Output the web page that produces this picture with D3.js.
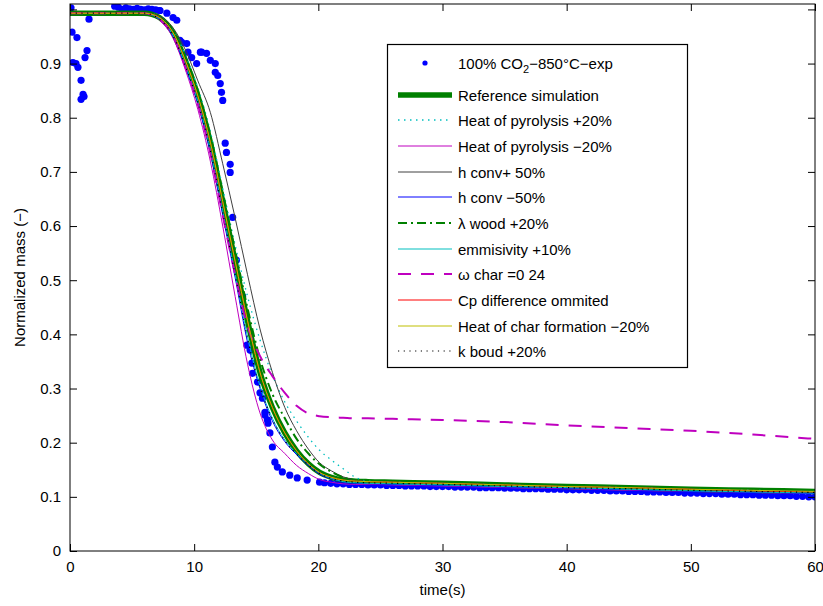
<!DOCTYPE html>
<html><head><meta charset="utf-8">
<script src="https://cdn.jsdelivr.net/npm/d3@7"></script>
<style>body{margin:0;background:#fff}text{font-family:"Liberation Sans",Arial,sans-serif}</style>
</head><body><svg id="c" width="823" height="606"></svg>
<script>
const simTime = [0, 6, 6.6, 7.2, 8.3, 9.3, 10.3, 11.3, 12.3, 13.3, 14.3, 15.3, 16.3, 17.3, 18.25, 19.2, 20.1, 21.05, 22, 23, 24, 26, 30, 35, 40, 45, 50, 55, 60];
const refSim   = [0.993,0.993,0.991,0.985,0.957,0.905,0.84,0.755,0.645,0.535,0.425,0.33,0.265,0.218,0.185,0.161,0.145,0.136,0.131,0.129,0.128,0.127,0.125,0.122,0.119,0.117,0.114,0.112,0.110];
const hopPlus  = [0.993,0.993,0.992,0.987,0.962,0.915,0.855,0.775,0.67,0.565,0.47,0.39,0.325,0.275,0.24,0.21,0.186,0.168,0.152,0.136,0.129,0.127,0.125,0.122,0.119,0.117,0.114,0.112,0.110];
const hopMinus = [0.993,0.993,0.99,0.981,0.947,0.888,0.815,0.72,0.60,0.47,0.345,0.255,0.205,0.18,0.158,0.143,0.132,0.127,0.124,0.123,0.123,0.122,0.120,0.117,0.115,0.112,0.110,0.108,0.106];
const hconvPlus = [0.993,0.993,0.992,0.988,0.966,0.925,0.868,0.81,0.715,0.615,0.51,0.41,0.33,0.265,0.222,0.188,0.163,0.148,0.137,0.131,0.128,0.127,0.125,0.122,0.119,0.117,0.114,0.112,0.110];
const hconvMinus = [0.993,0.993,0.99,0.982,0.95,0.893,0.825,0.735,0.62,0.505,0.385,0.3,0.24,0.202,0.178,0.158,0.142,0.133,0.127,0.125,0.124,0.123,0.121,0.118,0.116,0.113,0.110,0.108,0.106];
const lambdaWood = [0.993,0.993,0.991,0.986,0.96,0.912,0.85,0.768,0.663,0.555,0.448,0.355,0.29,0.245,0.207,0.18,0.16,0.146,0.136,0.13,0.128,0.127,0.125,0.122,0.119,0.117,0.114,0.112,0.110];
const emissivity = [0.993,0.993,0.99,0.983,0.952,0.897,0.83,0.742,0.628,0.512,0.395,0.305,0.245,0.205,0.18,0.16,0.144,0.134,0.128,0.126,0.125,0.124,0.122,0.119,0.117,0.114,0.111,0.109,0.107];
const omegaChar = [0.993,0.993,0.99,0.982,0.95,0.893,0.825,0.735,0.62,0.51,0.415,0.36,0.323,0.292,0.268,0.254,0.249,0.247,0.246,0.245,0.245,0.244,0.242,0.238,0.232,0.227,0.222,0.215,0.207];
const cpOmitted = [0.993,0.993,0.991,0.985,0.957,0.905,0.84,0.755,0.645,0.535,0.425,0.33,0.265,0.218,0.185,0.161,0.145,0.136,0.131,0.129,0.128,0.127,0.125,0.122,0.119,0.117,0.114,0.111,0.109];
const charHeat = [0.993,0.993,0.991,0.985,0.957,0.905,0.84,0.755,0.645,0.535,0.425,0.33,0.265,0.218,0.185,0.161,0.145,0.136,0.131,0.129,0.128,0.127,0.125,0.122,0.119,0.117,0.114,0.112,0.110];
const kBoud = [0.993,0.993,0.99,0.982,0.951,0.895,0.828,0.74,0.625,0.51,0.392,0.303,0.243,0.204,0.179,0.159,0.143,0.134,0.129,0.127,0.126,0.125,0.123,0.120,0.117,0.115,0.112,0.110,0.108];

const expTime = [0.08,0.16,0.56,0.24,0.48,0.64,0.89,0.89,1.13,1.05,1.21,1.37,1.53,
 3.6,3.9,4.2,4.5,4.8,5.1,5.4,5.7,6.0,6.3,6.6,6.9,7.2,
 7.25,7.8,8.3,8.6,8.85,9.0,9.4,9.5,9.8,10.2,10.5,10.6,11.0,11.3,11.7,11.7,11.9,12.1,12.2,12.3,
 12.5,12.6,12.9,12.9,13.1,13.4,13.9,14.25,14.5,14.65,14.7,15.1,15.3,15.5,15.7,15.7,15.9,15.95,16.1,16.3,16.5,16.7,17.1,17.7,18.3,19.1,20.1,
 20.5,21,21.5,22,22.5,23,23.5,24,24.5,25,25.5,26,26.5,27,27.5,28,28.5,29,29.5,30,30.5,31,31.5,32,32.5,33,33.5,34,34.5,35,35.5,36,36.5,37,37.5,38,38.5,39,39.5,40,40.5,41,41.5,42,42.5,43,43.5,44,44.5,45,45.5,46,46.5,47,47.5,48,48.5,49,49.5,50,50.5,51,51.5,52,52.5,53,53.5,54,54.5,55,55.5,56,56.5,57,57.5,58,58.5,59,59.5,60];
const expMass = [1.003,0.958,0.948,0.902,0.9,0.893,0.869,0.834,0.839,0.843,0.911,0.924,0.982,
 1.006,1.004,1.0,1.003,1.001,1.0,1.002,1.0,0.999,1.001,1.0,0.999,0.998,
 0.998,0.993,0.985,0.98,0.943,0.939,0.937,0.921,0.911,0.9,0.921,0.921,0.919,0.906,0.9,0.884,0.878,0.863,0.847,0.832,
 0.753,0.736,0.714,0.699,0.616,0.537,0.47,0.38,0.371,0.347,0.328,0.312,0.292,0.282,0.256,0.251,0.242,0.236,0.218,0.192,0.164,0.155,0.146,0.14,0.135,0.131,0.127,
 0.126,0.125,0.124,0.124,0.123,0.123,0.123,0.122,0.122,0.122,0.121,0.121,0.121,0.120,0.120,0.120,0.120,0.119,0.119,0.119,0.119,0.118,0.118,0.118,0.118,0.117,0.117,0.117,0.117,0.116,0.116,0.116,0.115,0.115,0.115,0.115,0.114,0.114,0.114,0.113,0.113,0.113,0.113,0.112,0.112,0.112,0.111,0.111,0.111,0.110,0.110,0.110,0.109,0.109,0.109,0.108,0.108,0.108,0.107,0.107,0.107,0.106,0.106,0.106,0.105,0.105,0.105,0.104,0.104,0.104,0.103,0.103,0.103,0.102,0.102,0.102,0.101,0.101,0.100,0.100];

const xTicks = [0,10,20,30,40,50,60];
const yTicks = [0,0.1,0.2,0.3,0.4,0.5,0.6,0.7,0.8,0.9,1.0];
const yTickLabels = ["0","0.1","0.2","0.3","0.4","0.5","0.6","0.7","0.8","0.9",""];
const legendLabels = ["100% CO2−850°C−exp","Reference simulation","Heat of pyrolysis +20%","Heat of pyrolysis −20%","h conv+ 50%","h conv −50%","λ wood +20%","emmisivity +10%","ω char =0 24","Cp difference ommited","Heat of char formation −20%","k boud +20%"];

const svg = d3.select("#c");
const L=70,R=815,T=4,B=551;
const x = d3.scaleLinear().domain([0,60]).range([L,R]);
const y = d3.scaleLinear().domain([0,1.01]).range([B,T]);

svg.append("defs").append("clipPath").attr("id","clip").append("rect").attr("x",L).attr("y",T).attr("width",R-L).attr("height",B-T);
const g = svg.append("g").attr("clip-path","url(#clip)");

g.selectAll("circle.exp").data(expTime.map((t,i)=>[t,expMass[i]])).join("circle")
 .attr("cx",d=>x(d[0])).attr("cy",d=>y(d[1])).attr("r",3.6).attr("fill","#0000ff");

const series = [
 {v:refSim, c:"#008000", w:5.5, d:null},
 {v:hopPlus, c:"#00bfbf", w:1.3, d:"1.5,4.5"},
 {v:hopMinus, c:"#bf00bf", w:1, d:null},
 {v:hconvPlus, c:"#404040", w:1, d:null},
 {v:hconvMinus, c:"#0000ff", w:1, d:null},
 {v:lambdaWood, c:"#008000", w:2, d:"9,4,2,4"},
 {v:emissivity, c:"#00bfbf", w:1, d:null},
 {v:omegaChar, c:"#bf00bf", w:2, d:"13,10"},
 {v:cpOmitted, c:"#ff0000", w:1, d:null},
 {v:charHeat, c:"#bfbf00", w:1, d:null},
 {v:kBoud, c:"#000000", w:1.2, d:"1.2,4.5"}
];
const line = d3.line().x(d=>x(d[0])).y(d=>y(d[1])).curve(d3.curveMonotoneX);
series.forEach(s=>{
 g.append("path").datum(simTime.map((t,i)=>[t,s.v[i]])).attr("d",line)
  .attr("fill","none").attr("stroke",s.c).attr("stroke-width",s.w)
  .attr("stroke-dasharray",s.d).attr("stroke-linejoin","round");
});

svg.append("rect").attr("x",L).attr("y",T).attr("width",R-L).attr("height",B-T).attr("fill","none").attr("stroke","#000").attr("stroke-width",1);
const xa = svg.append("g").attr("transform",`translate(0,${B})`).call(d3.axisBottom(x).tickValues(xTicks).tickSize(-7).tickPadding(10).tickFormat(d3.format("d")));
const xt = svg.append("g").attr("transform",`translate(0,${T})`).call(d3.axisTop(x).tickValues(xTicks).tickSize(-7).tickFormat(""));
const ya = svg.append("g").attr("transform",`translate(${L},0)`).call(d3.axisLeft(y).tickValues(yTicks).tickSize(-7).tickPadding(9).tickFormat((d,i)=>yTickLabels[i]));
const yr = svg.append("g").attr("transform",`translate(${R},0)`).call(d3.axisRight(y).tickValues(yTicks).tickSize(-7).tickFormat(""));
[xa,xt,ya,yr].forEach(a=>{a.select(".domain").remove();a.selectAll("line").attr("stroke","#000");a.selectAll("text").attr("font-size",15).attr("fill","#000").attr("font-family","Liberation Sans, Arial");});

svg.append("text").attr("x",(L+R)/2).attr("y",595).attr("text-anchor","middle").attr("font-size",15).text("time(s)");
svg.append("text").attr("transform",`translate(25,${(T+B)/2}) rotate(-90)`).attr("text-anchor","middle").attr("font-size",15).text("Normalized mass (−)");

const lg = svg.append("g");
lg.append("rect").attr("x",387.5).attr("y",44.5).attr("width",300).attr("height",323).attr("fill","#fff").attr("stroke","#000").attr("stroke-width",1.2);
const ly = [63,95,120,146,172,197,223,249,274,300,326,351];
legendLabels.forEach((lab,i)=>{
 const yy = ly[i];
 if(i===0){
  lg.append("circle").attr("cx",425).attr("cy",yy).attr("r",2.6).attr("fill","#0000ff");
  const t = lg.append("text").attr("x",458).attr("y",yy+5.5).attr("font-size",15);
  t.append("tspan").text("100% CO");
  t.append("tspan").attr("font-size",11).attr("dy",4).text("2");
  t.append("tspan").attr("dy",-4).text("−850°C−exp");
 } else {
  const s = series[i-1];
  lg.append("line").attr("x1",398).attr("x2",452).attr("y1",yy).attr("y2",yy)
   .attr("stroke",s.c).attr("stroke-width",s.w).attr("stroke-dasharray",s.d);
  lg.append("text").attr("x",458).attr("y",yy+5.5).attr("font-size",15).text(lab);
 }
});
</script></body></html>
